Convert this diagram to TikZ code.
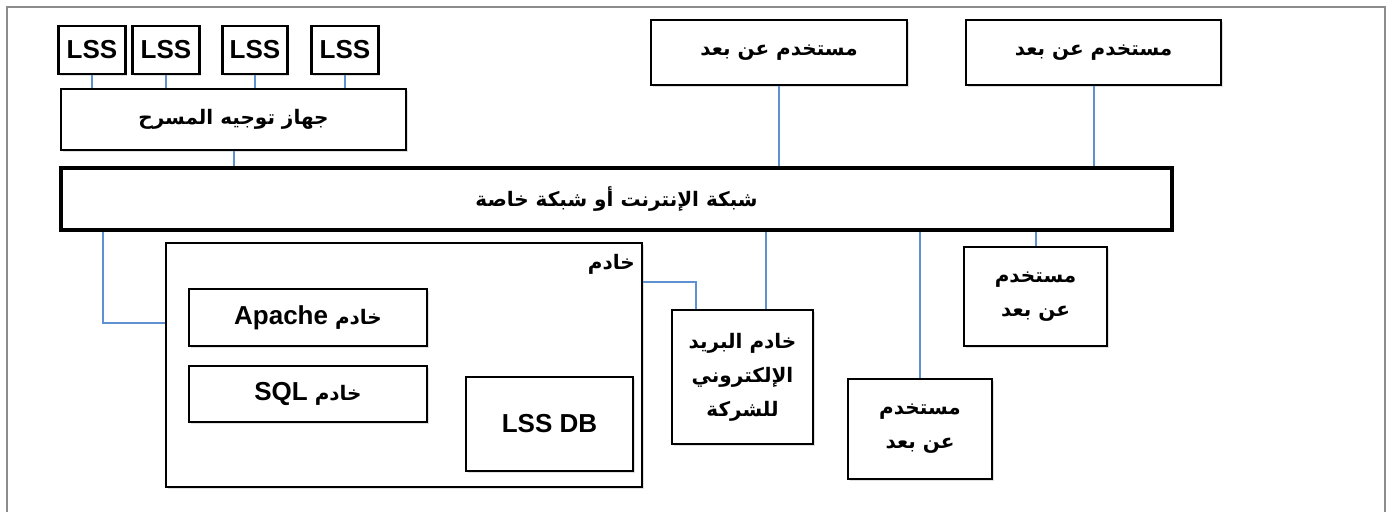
\documentclass[tikz,border=0pt]{standalone}
\usepackage{fontspec}
\setmainfont{Liberation Sans}
\newfontfamily\arabicfont[Script=Arabic]{DejaVu Sans}
\TeXXeTstate=1
\usepackage{xcolor}
\usepackage{tikz}
\usetikzlibrary{shadows}

\definecolor{linkblue}{RGB}{95,145,210}
\definecolor{framegray}{RGB}{140,140,140}
\newcommand{\artext}[1]{{\arabicfont\fontsize{10}{17}\selectfont\beginR #1\endR}}
\newcommand{\lattext}[1]{{\rmfamily\fontsize{13}{17}\selectfont\beginL #1\endL}}

\begin{document}
\begin{tikzpicture}[x=0.5pt, y=-0.5pt,
    box/.style={draw, line width=1.2pt, fill=white, align=center, inner sep=2pt,
      font=\bfseries\fontsize{13}{17}\selectfont,
      drop shadow={shadow xshift=0.8pt, shadow yshift=-0.8pt, opacity=0.25}},
    sz/.style 2 args={minimum width={#1*0.5pt}, minimum height={#2*0.5pt}},
    link/.style={draw=linkblue, line width=1pt}]
      \useasboundingbox (0,0) rectangle (1397,512);
      \draw[framegray, line width=1pt] (7,512) -- (7,7) -- (1385,7) -- (1385,512);

      \node[box, sz={67}{48}] (lss1) at (92,50) {LSS};
      \node[box, sz={67}{48}] (lss2) at (166,50) {LSS};
      \node[box, sz={65}{48}] (lss3) at (255,50) {LSS};
      \node[box, sz={67}{48}] (lss4) at (345,50) {LSS};
      \node[box, sz={345}{61}] (router) at (233.5,119.5) {\artext{جهاز توجيه المسرح}};
      \node[box, sz={256}{65}] (ru1) at (779,52.5) {\artext{مستخدم عن بعد}};
      \node[box, sz={255}{65}] (ru2) at (1093.5,52.5) {\artext{مستخدم عن بعد}};
      \node[box, line width=2.2pt, sz={1111}{62}] (net) at (616.5,199) {\artext{شبكة الإنترنت أو شبكة خاصة}};
      \node[box, sz={476}{244}] (server) at (404,365) {};
      \node[anchor=north east, inner sep=0pt, font=\bfseries\fontsize{13}{17}\selectfont] (serverlbl) at ([shift={(-8,12)}]server.north east) {\artext{خادم}};
      \node[box, sz={238}{57}] (apache) at (308,317.5) {\artext{خادم \lattext{Apache}}};
      \node[box, sz={238}{56}] (sql) at (308,394) {\artext{خادم \lattext{SQL}}};
      \node[box, sz={167}{94}] (lssdb) at (549.5,424) {LSS DB};
      \node[box, sz={141}{134}] (mail) at (742.5,377) {\artext{خادم البريد}\\ \artext{الإلكتروني}\\ \artext{للشركة}};
      \node[box, sz={144}{100}] (ru3) at (920,429) {\artext{مستخدم}\\ \artext{عن بعد}};
      \node[box, sz={143}{99}] (ru4) at (1035.5,296.5) {\artext{مستخدم}\\ \artext{عن بعد}};

      \foreach \n in {lss1,lss2,lss3,lss4}
        \draw[link] (\n.south) -- (\n.south |- router.north);
      \draw[link] (router.south) -- (router.south |- net.north);
      \draw[link] (ru1.south) -- (ru1.south |- net.north);
      \draw[link] (ru2.south) -- (ru2.south |- net.north);
      \draw[link] (ru3.north) -- (ru3.north |- net.south);
      \draw[link] (ru4.north) -- (ru4.north |- net.south);
      \coordinate (srvtap) at ([shift={(44,0)}]net.south west);
      \draw[link] (srvtap) |- ([shift={(0,81)}]server.north west);
      \coordinate (mailtap) at ([shift={(95,0)}]mail.north west);
      \draw[link] (mailtap) -- (mailtap |- net.south);
      \draw[link] ([shift={(0,40)}]server.north east) -| ([shift={(25,0)}]mail.north west);
    \end{tikzpicture}
\end{document}
